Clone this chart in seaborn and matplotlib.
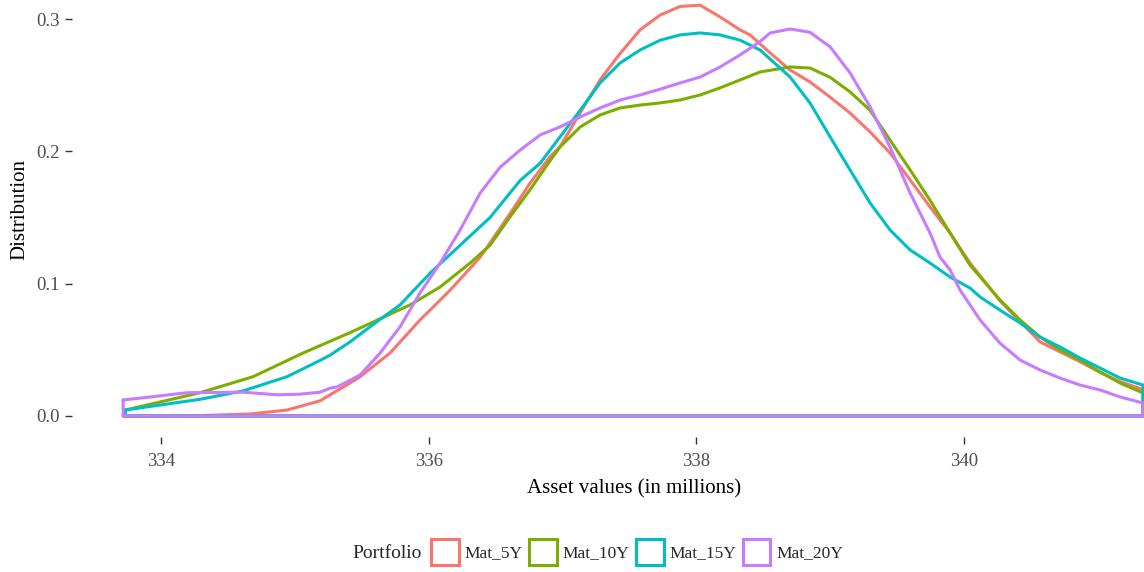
import matplotlib
matplotlib.use("Agg")
import matplotlib.pyplot as plt
from matplotlib.patches import Rectangle
import seaborn as sns
import pandas as pd

# density curves (x in millions, y = density)
x_5y = [333.716, 334.291, 334.665, 334.941, 335.188, 335.412, 335.487, 335.711, 335.935,
        336.159, 336.384, 336.608, 336.757, 336.907, 336.981, 337.131, 337.280, 337.430,
        337.579, 337.729, 337.878, 338.028, 338.177, 338.327, 338.401, 338.551, 338.700,
        338.849, 338.999, 339.148, 339.298, 339.447, 339.597, 339.746, 339.896, 340.045,
        340.269, 340.568, 340.867, 341.016, 341.166, 341.338]
y_5y = [0.000, 0.0003, 0.0015, 0.0045, 0.0115, 0.025, 0.0297, 0.0476, 0.0726,
        0.095, 0.120, 0.153, 0.176, 0.196, 0.2035, 0.229, 0.254, 0.274,
        0.2918, 0.303, 0.3095, 0.3105, 0.3016, 0.2918, 0.288, 0.2744, 0.2615,
        0.2525, 0.241, 0.229, 0.2147, 0.1988, 0.1784, 0.158, 0.1383, 0.1156,
        0.087, 0.056, 0.041, 0.033, 0.026, 0.020]

x_10y = [333.731, 334.291, 334.687, 335.061, 335.412, 335.562, 335.861, 336.085, 336.309,
         336.458, 336.608, 336.757, 336.907, 336.981, 337.131, 337.280, 337.430, 337.579,
         337.729, 337.878, 338.028, 338.177, 338.327, 338.476, 338.700, 338.849, 338.999,
         339.148, 339.298, 339.447, 339.597, 339.746, 339.896, 340.045, 340.269, 340.419,
         340.568, 340.717, 340.867, 341.016, 341.166, 341.338]
y_10y = [0.0045, 0.0176, 0.0297, 0.0476, 0.063, 0.070, 0.084, 0.0975, 0.1156,
         0.129, 0.1506, 0.171, 0.193, 0.2033, 0.2184, 0.2275, 0.2328, 0.235,
         0.2366, 0.2388, 0.2426, 0.248, 0.254, 0.260, 0.2638, 0.263, 0.256,
         0.245, 0.231, 0.2086, 0.186, 0.163, 0.1383, 0.114, 0.0877, 0.0726,
         0.0597, 0.0499, 0.0423, 0.0333, 0.0249, 0.0174]

x_15y = [333.731, 334.291, 334.613, 334.941, 335.188, 335.263, 335.412, 335.562, 335.786,
         336.010, 336.234, 336.458, 336.683, 336.832, 336.981, 337.131, 337.280, 337.430,
         337.579, 337.729, 337.878, 338.028, 338.177, 338.327, 338.476, 338.700, 338.849,
         338.999, 339.148, 339.298, 339.447, 339.597, 339.746, 339.896, 340.045, 340.120,
         340.269, 340.419, 340.568, 340.717, 340.867, 341.016, 341.166, 341.338]
y_15y = [0.0045, 0.0126, 0.019, 0.0297, 0.042, 0.046, 0.056, 0.0675, 0.084,
         0.108, 0.129, 0.150, 0.178, 0.191, 0.211, 0.231, 0.2517, 0.2668,
         0.2766, 0.284, 0.288, 0.2895, 0.288, 0.284, 0.2766, 0.2562, 0.2366,
         0.211, 0.186, 0.161, 0.1406, 0.1255, 0.1156, 0.105, 0.0967, 0.090,
         0.080, 0.0703, 0.0597, 0.0522, 0.0438, 0.0363, 0.0287, 0.0234]

x_20y = [333.716, 333.940, 334.194, 334.613, 334.867, 335.039, 335.188, 335.263, 335.315,
         335.412, 335.487, 335.636, 335.786, 335.935, 336.085, 336.234, 336.384, 336.533,
         336.683, 336.832, 336.981, 337.131, 337.280, 337.430, 337.579, 337.729, 337.878,
         338.028, 338.177, 338.327, 338.476, 338.551, 338.700, 338.849, 338.999, 339.148,
         339.298, 339.447, 339.597, 339.746, 339.821, 339.896, 339.970, 340.120, 340.269,
         340.419, 340.568, 340.717, 340.867, 341.016, 341.166, 341.338]
y_20y = [0.0121, 0.0146, 0.0176, 0.018, 0.016, 0.0165, 0.018, 0.021, 0.022,
         0.027, 0.031, 0.0475, 0.0675, 0.093, 0.1156, 0.1405, 0.1685, 0.188,
         0.201, 0.2124, 0.2185, 0.226, 0.2328, 0.2388, 0.2426, 0.247, 0.2517,
         0.2562, 0.2638, 0.2729, 0.283, 0.2895, 0.2925, 0.290, 0.279, 0.2593,
         0.2336, 0.2033, 0.1685, 0.1383, 0.120, 0.1104, 0.0952, 0.0726, 0.055,
         0.0423, 0.0348, 0.0287, 0.0234, 0.0197, 0.0144, 0.0098]

portfolios = ["Mat_5Y", "Mat_10Y", "Mat_15Y", "Mat_20Y"]
colors = ["#F8766D", "#7CAE00", "#00BFC4", "#C77CFF"]
x_ticks = [334, 336, 338, 340]
y_ticks = [0.0, 0.1, 0.2, 0.3]

curves = {"Mat_5Y": (x_5y, y_5y), "Mat_10Y": (x_10y, y_10y),
          "Mat_15Y": (x_15y, y_15y), "Mat_20Y": (x_20y, y_20y)}

# closed outlines like geom_density (curve + baseline)
rows = []
for name in portfolios:
    xs, ys = curves[name]
    pts = list(zip(xs, ys)) + [(xs[-1], 0.0), (xs[0], 0.0), (xs[0], ys[0])]
    for a, b in pts:
        rows.append({"x": a, "y": b, "Portfolio": name})
df = pd.DataFrame(rows)

sns.set_style("white")
plt.rcParams['font.family'] = ['Liberation Serif', 'DejaVu Serif']

W, H = 1144, 572
fig = plt.figure(figsize=(W / 100, H / 100), dpi=100)
# panel from px 72 to right edge, from top edge to px 436.5
ax = fig.add_axes([72 / W, (H - 436.5) / H, (W - 72) / W, 436.5 / H])

palette = dict(zip(portfolios, colors))
sns.lineplot(data=df, x="x", y="y", hue="Portfolio", hue_order=portfolios,
             palette=palette, sort=False, estimator=None, linewidth=2.2,
             legend=False, ax=ax)
for ln in ax.lines:
    ln.set_solid_joinstyle("round")

ax.set_xlim(333.334, 341.345)
ax.set_ylim(-0.0155, 0.3144)
for s in ax.spines.values():
    s.set_visible(False)

ax.set_xticks(x_ticks)
ax.set_xticklabels([str(v) for v in x_ticks])
ax.set_yticks(y_ticks)
ax.set_yticklabels([f"{v:.1f}" for v in y_ticks])
ax.tick_params(axis="both", bottom=True, left=True, direction="out", length=5,
               width=1, color="#333333", labelcolor="#4D4D4D", labelsize=13.5, pad=4)
ax.tick_params(axis="x", pad=7)

ax.set_xlabel("Asset values (in millions)", fontsize=15, color="black")
ax.set_ylabel("Distribution", fontsize=15, color="black")
ax.xaxis.set_label_coords((634 - 72) / (W - 72), -(489 - 436.5) / 436.5)
ax.xaxis.label.set_va("center")
ax.yaxis.set_label_coords((20 - 72) / (W - 72), (436.5 - 210) / 436.5)
ax.yaxis.label.set_va("center")

# legend at bottom, title on the left
handles = [Rectangle((0, 0), 1, 1, facecolor="white", edgecolor=c, linewidth=2.2)
           for c in colors]
fig.text(352 / W, 1 - 553 / H, "Portfolio", fontsize=14, va="center", ha="left")
fig.legend(handles, portfolios, loc="center left", bbox_to_anchor=(431 / W, 1 - 552 / H),
           ncol=4, frameon=False, fontsize=12.5, handlelength=1.6, handleheight=1.95,
           handletextpad=0.35, columnspacing=0.35, borderpad=0, borderaxespad=0)

fig.savefig("out.png", dpi=100, facecolor="white")
